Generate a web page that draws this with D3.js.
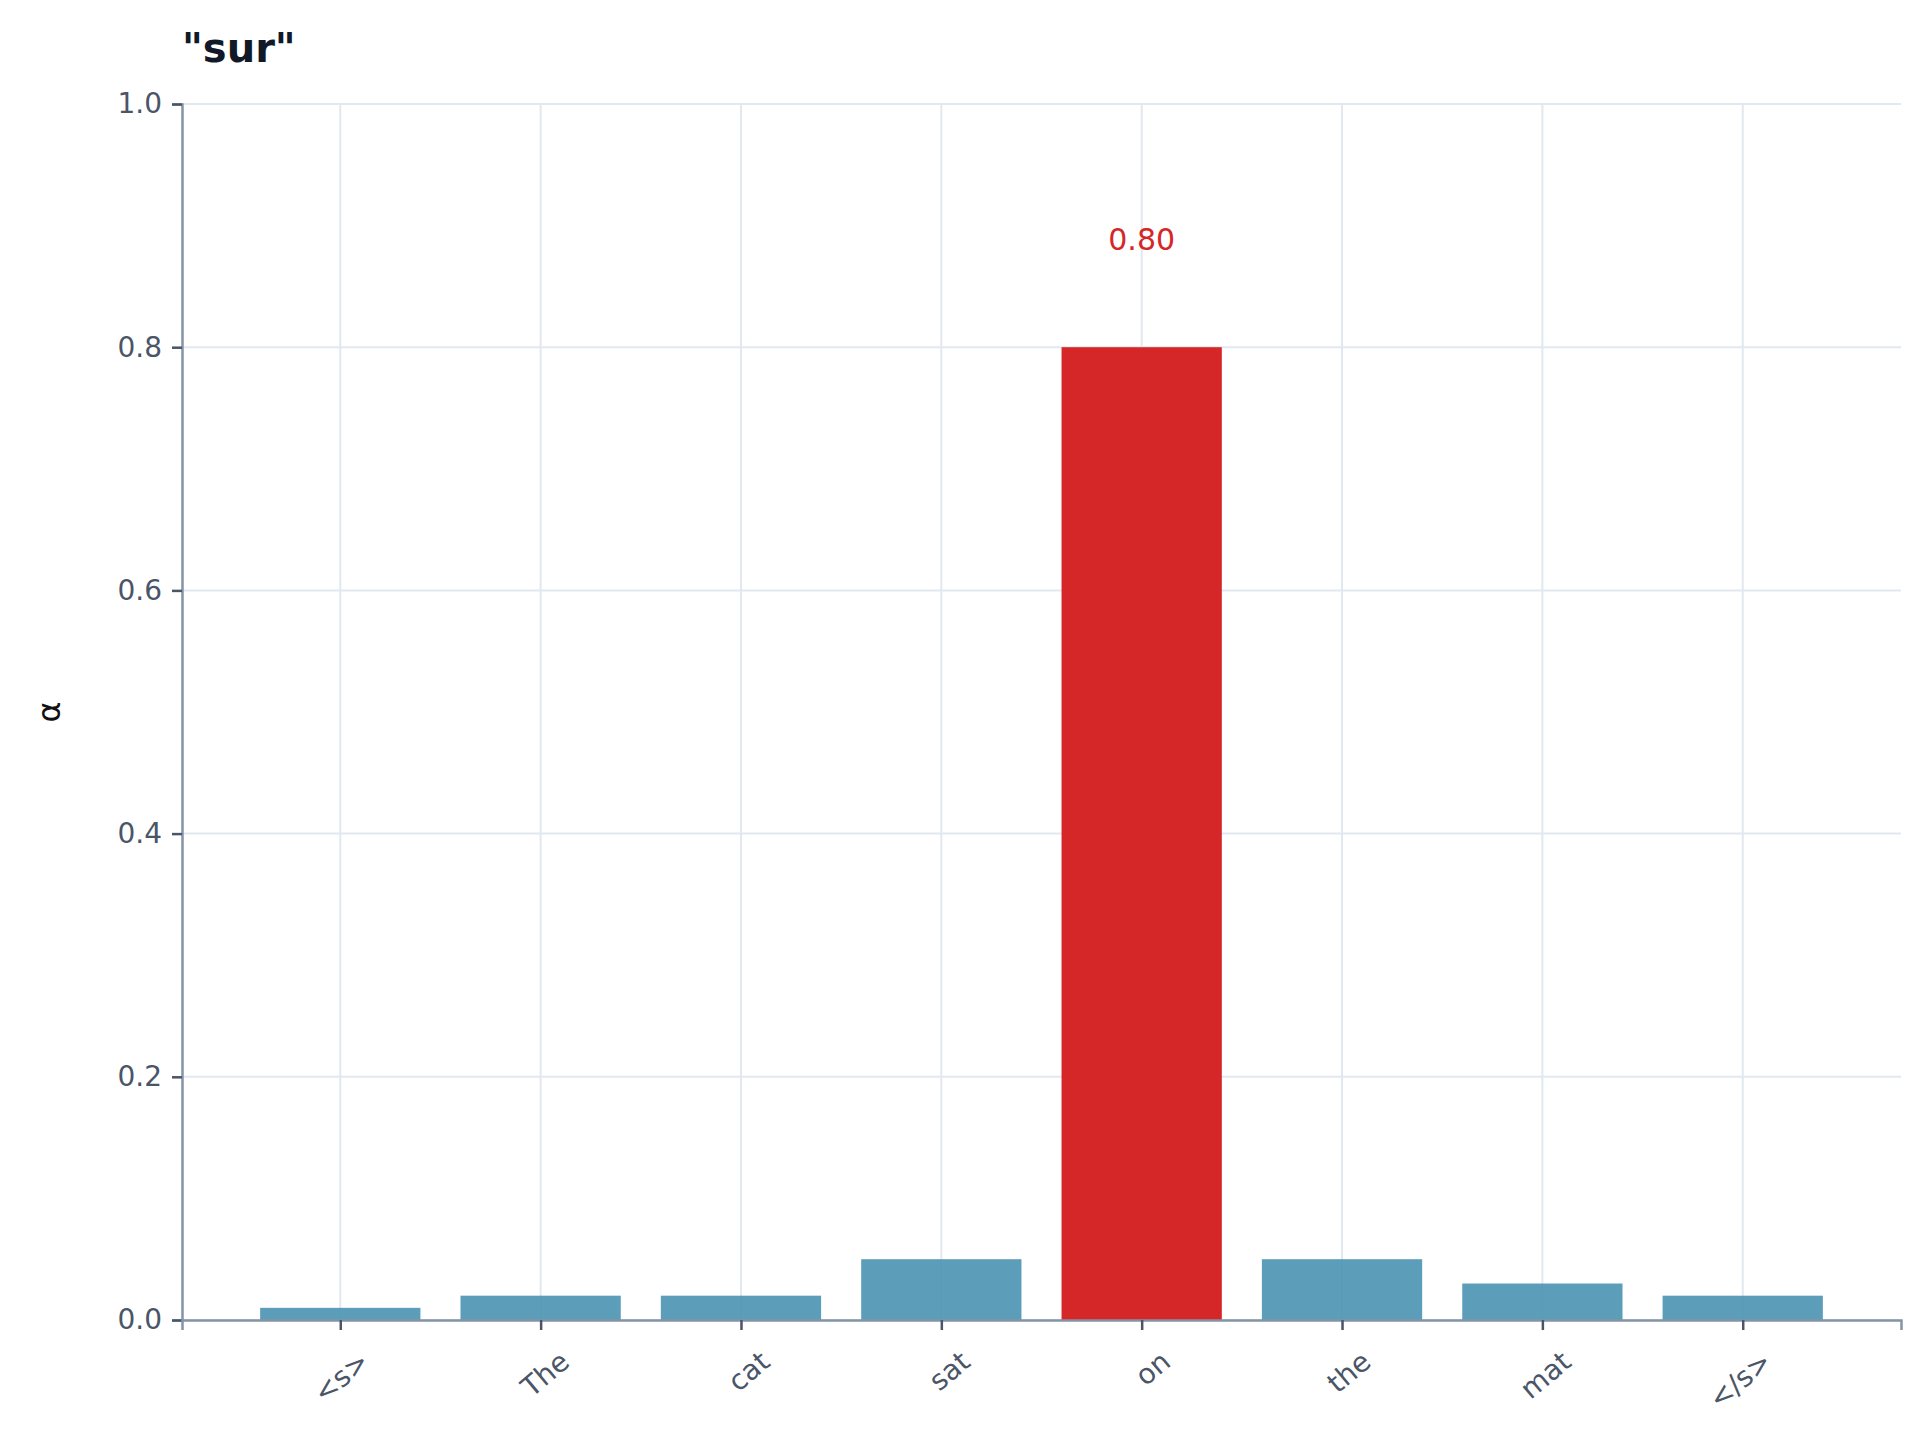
<!DOCTYPE html>
<html><head><meta charset="utf-8">
<script src="https://cdn.jsdelivr.net/npm/d3@7"></script>
<style>body{margin:0;background:#fff}text{font-family:"DejaVu Sans",sans-serif}</style>
</head><body>
<svg id="c" width="1920" height="1448"></svg>
<script>
const categories = ["<s>","The","cat","sat","on","the","mat","</s>"];
const values = [0.01,0.02,0.02,0.05,0.80,0.05,0.03,0.02];
const yTicks = [0,0.2,0.4,0.6,0.8,1.0];
const highlight = "on";

const svg = d3.select("#c");
const L=182,R=1901,T=104,B=1320;
const x = d3.scalePoint().domain(categories).range([L,R]).padding(0.79);
const step = x.step();
const y = d3.scaleLinear().domain([0,1]).range([B,T]);

// grid
svg.append("g").selectAll("line").data(yTicks).join("line")
  .attr("x1",L).attr("x2",R).attr("y1",d=>y(d)).attr("y2",d=>y(d))
  .attr("stroke","#e2e8f0").attr("stroke-width",2);
svg.append("g").selectAll("line").data(categories).join("line")
  .attr("x1",d=>x(d)).attr("x2",d=>x(d)).attr("y1",T).attr("y2",B)
  .attr("stroke","#e2e8f0").attr("stroke-width",2);

// bars
const bw = step*0.8;
svg.append("g").selectAll("rect").data(categories).join("rect")
  .attr("x",d=>x(d)-bw/2).attr("width",bw)
  .attr("y",(d,i)=>y(values[i])).attr("height",(d,i)=>y(0)-y(values[i]))
  .attr("fill",d=>d===highlight?"#d62728":"#4a93b3").attr("fill-opacity",d=>d===highlight?1:0.9);

// value label
categories.forEach((c,i)=>{ if(c===highlight){
  svg.append("text").attr("x",x(c)).attr("y",y(values[i]+0.08)).attr("text-anchor","middle")
   .attr("fill","#d62728").attr("font-size",30).text(values[i].toFixed(2));
}});

// axes
const ya = svg.append("g").attr("transform",`translate(${L},0)`)
  .call(d3.axisLeft(y).tickValues(yTicks).tickFormat(d3.format(".1f")).tickSize(10).tickPadding(10));
const xa = svg.append("g").attr("transform",`translate(0,${B})`)
  .call(d3.axisBottom(x).tickSize(10).tickPadding(8));
[ya,xa].forEach(a=>{a.select(".domain").attr("stroke","#8494a7").attr("stroke-width",2.5);
  a.selectAll(".tick line").attr("stroke","#4a5568").attr("stroke-width",2.5);
  a.selectAll("text").attr("fill","#4a5568").attr("font-size",28).style("font-family","'DejaVu Sans',sans-serif");});
xa.selectAll(".tick text").attr("text-anchor","end").attr("dx","-0.2em").attr("dy","1.2em")
  .attr("transform","rotate(-40)").attr("y",20);

svg.append("text").attr("transform",`translate(60,${(T+B)/2}) rotate(-90)`).attr("text-anchor","middle")
  .attr("font-size",32).attr("fill","#111").text("α");
svg.append("text").attr("x",182).attr("y",62).attr("font-size",40).attr("font-weight","bold")
  .attr("fill","#111827").text('"sur"');
</script></body></html>
